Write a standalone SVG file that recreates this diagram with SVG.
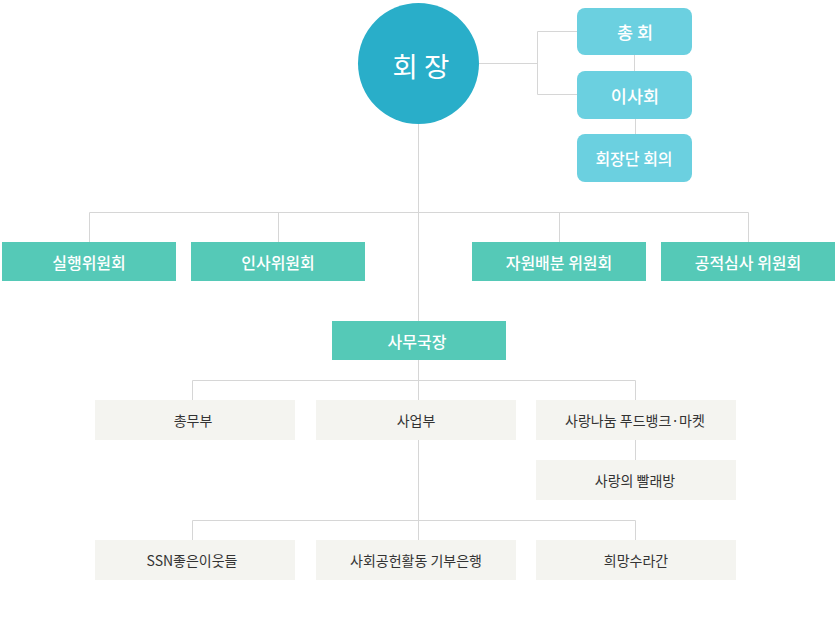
<svg xmlns="http://www.w3.org/2000/svg" width="835" height="620" viewBox="0 0 835 620">
<style>
.ln{stroke:#d6d6d6;stroke-width:1;fill:none}
.t{font-family:"Noto Sans CJK KR","Noto Sans",sans-serif;text-anchor:middle;dominant-baseline:central}
.w{fill:#ffffff}
.blue{fill:#6bd0e0}
.teal{fill:#55c9b7}
.gray{fill:#f4f4f0}
.com{font-size:16px;font-weight:500}
.dept{font-size:14px;fill:#333333;font-weight:400}
.sb{font-size:17.5px;font-weight:500}
</style>
<rect width="835" height="620" fill="#ffffff"/>
<g id="connectors">
<path class="ln" d="M478 63.5H537.5M537.5 31.5V94.5M537.5 31.5H577M537.5 94.5H577"/>
<path class="ln" d="M634.5 55V71M635.5 119V134"/>
<path class="ln" d="M418.5 124V321M418.5 360V400M418.5 440V540"/>
<path class="ln" d="M89.5 212.5H748.5M89.5 212.5V242M278.5 212.5V242M559.5 212.5V242M748.5 212.5V242"/>
<path class="ln" d="M192.5 380.5H635.5M192.5 380.5V400M635.5 380.5V400M635.5 440V460"/>
<path class="ln" d="M192.5 520.5H635.5M192.5 520.5V540M635.5 520.5V540"/>
</g>
<g id="chair"><circle cx="418.5" cy="63.5" r="60.5" fill="#29aec9"/><text class="t w" x="421" y="65" font-size="27.5">회 장</text></g>
<g id="general"><rect class="blue" x="577" y="8" width="115" height="47" rx="8"/><text class="t w sb" x="635" y="31.5">총 회</text></g>
<g id="board"><rect class="blue" x="577" y="71" width="115" height="48" rx="8"/><text class="t w sb" x="635" y="95">이사회</text></g>
<g id="exec-meeting"><rect class="blue" x="577" y="134" width="115" height="48" rx="8"/><text class="t w" x="634" y="158" font-size="16" font-weight="500">회장단 회의</text></g>
<g id="c1"><rect class="teal" x="2" y="242" width="174" height="39"/><text class="t w com" x="89" y="261.5">실행위원회</text></g>
<g id="c2"><rect class="teal" x="191" y="242" width="174" height="39"/><text class="t w com" x="278" y="261.5">인사위원회</text></g>
<g id="c3"><rect class="teal" x="472" y="242" width="174" height="39"/><text class="t w com" x="559" y="261.5">자원배분 위원회</text></g>
<g id="c4"><rect class="teal" x="661" y="242" width="174" height="39"/><text class="t w com" x="748" y="261.5">공적심사 위원회</text></g>
<g id="secretary"><rect class="teal" x="332" y="321" width="174" height="39"/><text class="t w com" x="417" y="340.5">사무국장</text></g>
<g id="d1"><rect class="gray" x="95" y="400" width="200" height="40"/><text class="t dept" x="193" y="420">총무부</text></g>
<g id="d2"><rect class="gray" x="316" y="400" width="200" height="40"/><text class="t dept" x="416" y="420">사업부</text></g>
<g id="d3"><rect class="gray" x="536" y="400" width="200" height="40"/><text class="t dept" x="635" y="420">사랑나눔 푸드뱅크·마켓</text></g>
<g id="d4"><rect class="gray" x="536" y="460" width="200" height="40"/><text class="t dept" x="635" y="480">사랑의 빨래방</text></g>
<g id="p1"><rect class="gray" x="95" y="540" width="200" height="40"/><text class="t dept" x="192" y="560">SSN좋은이웃들</text></g>
<g id="p2"><rect class="gray" x="316" y="540" width="200" height="40"/><text class="t dept" x="416" y="560">사회공헌활동 기부은행</text></g>
<g id="p3"><rect class="gray" x="536" y="540" width="200" height="40"/><text class="t dept" x="636" y="560">희망수라간</text></g>
</svg>
